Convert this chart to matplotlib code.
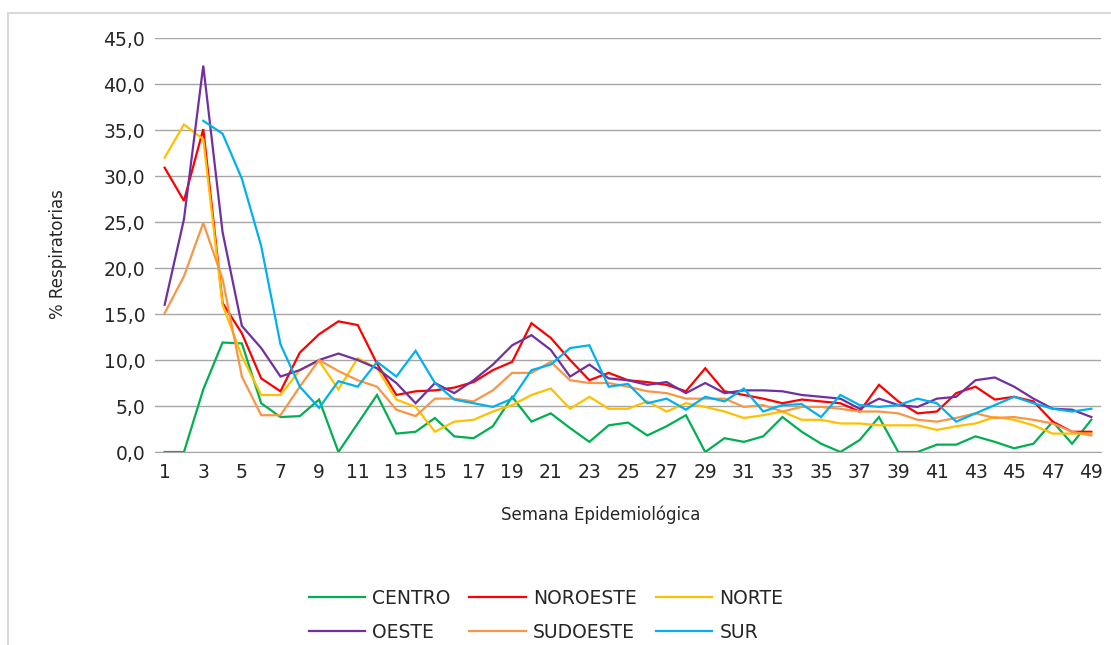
import numpy as np
import matplotlib
matplotlib.use("Agg")
from matplotlib import pyplot as plt
from matplotlib.patches import Rectangle
from matplotlib.ticker import FuncFormatter

nan = np.nan

weeks = list(range(1, 50))

centro = [0, 0, 6.8, 11.9, 11.8, 5.3, 3.8, 3.9, 5.7, 0,
          3.1, 6.2, 2.0, 2.2, 3.7, 1.7, 1.5, 2.8, 6.0, 3.3,
          4.2, 2.6, 1.1, 2.9, 3.2, 1.8, 2.8, 4.0, 0, 1.5,
          1.1, 1.7, 3.8, 2.2, 0.9, 0, 1.3, 3.8, 0, 0,
          0.8, 0.8, 1.7, 1.1, 0.4, 0.9, 3.3, 0.9, 3.5]
noroeste = [30.9, 27.3, 35.1, 16.2, 12.9, 8.0, 6.6, 10.8, 12.8, 14.2,
            13.8, 9.6, 6.2, 6.6, 6.7, 7.0, 7.6, 8.9, 9.8, 14.0,
            12.4, 10.0, 7.8, 8.6, 7.8, 7.6, 7.3, 6.6, 9.1, 6.6,
            6.2, 5.8, 5.3, 5.7, 5.5, 5.3, 4.4, 7.3, 5.5, 4.2,
            4.4, 6.4, 7.1, 5.7, 6.0, 5.5, 3.3, 2.2, 2.2]
norte = [32.0, 35.6, 34.0, 16.0, 10.4, 6.2, 6.2, 8.9, 9.9, 6.8,
         10.2, 9.1, 5.7, 4.9, 2.2, 3.3, 3.5, 4.4, 5.1, 6.2,
         6.9, 4.7, 6.0, 4.7, 4.7, 5.5, 4.4, 5.3, 4.9, 4.4,
         3.7, 4.0, 4.4, 3.5, 3.5, 3.1, 3.1, 2.9, 2.9, 2.9,
         2.4, 2.8, 3.1, 3.8, 3.5, 2.9, 2.0, 2.0, 2.0]
oeste = [16.0, 25.3, 42.0, 23.9, 13.7, 11.3, 8.2, 8.9, 10.0, 10.7,
         10.0, 9.1, 7.5, 5.3, 7.5, 6.4, 7.8, 9.5, 11.6, 12.7,
         11.1, 8.2, 9.5, 8.0, 7.8, 7.3, 7.6, 6.4, 7.5, 6.4,
         6.7, 6.7, 6.6, 6.2, 6.0, 5.8, 4.7, 5.8, 5.1, 4.9,
         5.8, 6.0, 7.8, 8.1, 7.1, 5.8, 4.7, 4.6, 3.8]
sudoeste = [15.1, 19.1, 24.9, 18.8, 8.2, 4.0, 4.0, 7.1, 10.0, 8.8,
            7.8, 7.1, 4.6, 3.9, 5.8, 5.8, 5.5, 6.7, 8.6, 8.6,
            9.8, 7.8, 7.5, 7.5, 7.1, 6.6, 6.4, 5.8, 5.8, 5.8,
            4.9, 5.1, 4.4, 4.9, 4.9, 4.7, 4.4, 4.4, 4.2, 3.5,
            3.3, 3.7, 4.2, 3.7, 3.8, 3.5, 3.1, 2.2, 1.8]
sur = [nan, nan, 36.0, 34.6, 29.7, 22.4, 11.7, 7.1, 4.8, 7.7,
       7.1, 9.8, 8.2, 11.0, 7.5, 5.7, 5.3, 4.9, 5.8, 8.9,
       9.5, 11.3, 11.6, 7.1, 7.4, 5.3, 5.8, 4.6, 6.0, 5.5,
       6.9, 4.4, 5.1, 5.2, 3.8, 6.2, 5.1, 4.9, 5.1, 5.8,
       5.3, 3.3, 4.2, 5.1, 6.0, 5.3, 4.7, 4.4, 4.7]

names = ["CENTRO", "NOROESTE", "NORTE", "OESTE", "SUDOESTE", "SUR"]
series = [centro, noroeste, norte, oeste, sudoeste, sur]
colors = ["#00B050", "#FF0000", "#FFC000", "#7030A0", "#F79646", "#00B0F0"]

plt.rcParams['font.family'] = ['DejaVu Sans']

fig = plt.figure(figsize=(11.11, 6.45), dpi=100)
ax = fig.add_axes([155 / 1111, 1 - 452 / 645, (1101 - 155) / 1111, (452 - 38) / 645])

# light frame around the chart
fig.patches.append(Rectangle((8 / 1111, -0.05), 1.1, 1 - 13 / 645 + 0.05,
                             transform=fig.transFigure, fill=False,
                             edgecolor="#d9d9d9", lw=1.5))

lines = {}
for name, vals, c in zip(names, series, colors):
    lines[name], = ax.plot(weeks, vals, color=c, lw=1.6, label=name,
                           solid_joinstyle="miter")

ax.set_xlim(0.5, 49.5)
ax.set_ylim(0, 45)
ax.set_yticks(np.arange(0, 46, 5))
ax.set_xticks(range(1, 50, 2))
ax.yaxis.set_major_formatter(FuncFormatter(lambda v, p: f"{v:.1f}".replace(".", ",")))
ax.grid(axis="y", color="#a6a6a6", lw=1.0)
ax.set_axisbelow(True)
for s in ["top", "right", "left"]:
    ax.spines[s].set_visible(False)
ax.spines["bottom"].set_color("#a6a6a6")
ax.tick_params(axis="both", length=0, labelsize=13.5, colors="#262626")
ax.tick_params(axis="y", pad=7)
ax.tick_params(axis="x", pad=8)

fig.text(601 / 1111, 1 - 515 / 645, "Semana Epidemiológica", ha="center", va="center",
         fontsize=12, color="#262626")
fig.text(58 / 1111, 1 - 254 / 645, "% Respiratorias", ha="center", va="center",
         rotation=90, fontsize=12, color="#262626")

order = ["CENTRO", "OESTE", "NOROESTE", "SUDOESTE", "NORTE", "SUR"]
fig.legend([lines[n] for n in order], order, ncol=3, frameon=False,
           loc="center", bbox_to_anchor=(546 / 1111, 1 - 615 / 645),
           fontsize=13.5, handlelength=3.0, handletextpad=0.4,
           columnspacing=1.0, labelspacing=0.8, borderpad=0)
for t in fig.legends[0].get_texts():
    t.set_color("#262626")

fig.savefig("out.png", dpi=100)
